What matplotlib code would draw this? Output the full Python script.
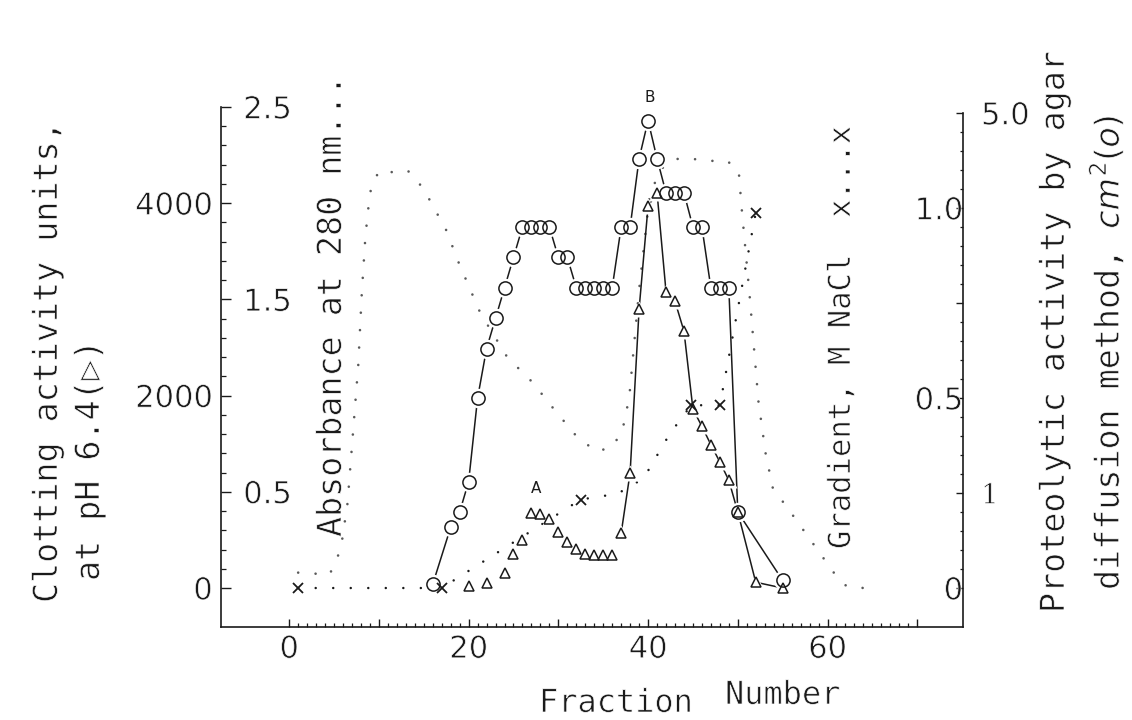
import numpy as np
import matplotlib
matplotlib.use('Agg')
import matplotlib.pyplot as plt
from matplotlib import patheffects as pe
from matplotlib.ticker import FixedLocator

plt.rcParams['font.family'] = ['DejaVu Sans Mono', 'DejaVu Sans']
plt.rcParams['font.size'] = 24
plt.rcParams['mathtext.fontset'] = 'dejavusans'

# --- data -------------------------------------------------------------------
# proteolytic activity (open circles, right axis, cm2)
circ_frac = [16, 18, 19, 20, 21, 22, 23, 24, 25, 26, 27, 28, 29, 30, 31, 32, 33,
             34, 35, 36, 37, 38, 39, 40, 41, 42, 43, 44, 45, 46, 47, 48, 49, 50, 55]
circ_prot = [0.01, 0.16, 0.20, 0.28, 0.50, 0.63, 0.71, 0.79, 0.87, 0.95, 0.95,
             0.95, 0.95, 0.87, 0.87, 0.79, 0.79, 0.79, 0.79, 0.79, 0.95, 0.95,
             1.13, 1.23, 1.13, 1.04, 1.04, 1.04, 0.95, 0.95, 0.79, 0.79, 0.79,
             0.20, 0.02]

# clotting activity (triangles, left axis, units)
tri_frac = [20, 22, 24, 25, 26, 27, 28, 29, 30, 31, 32, 33, 34, 35, 36, 37, 38,
            39, 40, 41, 42, 43, 44, 45, 46, 47, 48, 49, 50, 52, 55]
tri_clot = [20, 50, 160, 350, 500, 780, 770, 720, 580, 480, 410, 350, 345, 345,
            340, 570, 1200, 2900, 3970, 4110, 3080, 2980, 2670, 1860, 1680, 1490,
            1310, 1120, 790, 60, 0]
tri_line_from = 37   # triangles are only joined by lines from here on

# absorbance at 280 nm (dotted)
abs_frac = [1, 4.5, 5.4, 5.9, 6.5, 7.7, 8.1, 8.5, 8.9, 9.2, 10.1, 11.7, 13.2, 14.4,
            15.5, 17.5, 18.9, 21.3, 24.3, 27.1, 29.5, 32.0, 34.2, 35.9, 37.1, 37.9,
            39.0, 40.2, 41.5, 43.1, 45.0, 46.8, 48.8, 50.1, 50.4, 51.3, 51.8, 52.3,
            53.1, 53.9, 56.1, 58.4, 60.7, 62.1, 64.0]
abs_val = [0.08, 0.07, 0.16, 0.25, 0.44, 1.16, 1.54, 1.83, 2.01, 2.10, 2.17, 2.16,
           2.17, 2.11, 2.03, 1.86, 1.69, 1.43, 1.20, 1.07, 0.93, 0.79, 0.71, 0.73,
           0.81, 0.99, 1.55, 2.05, 2.18, 2.23, 2.23, 2.22, 2.22, 2.17, 1.99, 1.53,
           1.25, 0.97, 0.70, 0.52, 0.38, 0.23, 0.08, 0.01, 0.0]

# NaCl gradient (x ... x), read against the absorbance scale
grad_frac = [1, 17, 32.5, 36.6, 39.5, 42.4, 44.8, 48.0, 52.0]
grad_val = [0.0, 0.0, 0.46, 0.49, 0.57, 0.80, 0.95, 0.95, 1.95]
grad_marked = [True, True, True, False, False, False, True, True, True]

# axes ticks / labels
x_major = [0, 10, 20, 30, 40, 50, 60, 70]
x_labels = ['0', '', '20', '', '40', '', '60', '']
x_minor = list(range(0, 71))
clot_ticks = [0, 1000, 2000, 3000, 4000, 5000]
clot_labels = ['0', '', '2000', '', '4000', '']
abs_ticks = [0.5, 1.5, 2.5]
abs_labels = ['0.5', '1.5', '2.5']
prot_ticks = [0, 0.25, 0.5, 0.75, 1.0, 1.25]
prot_labels_out = ['', '1', '', '', '', '5.0']
prot_labels_in = ['0', '', '0.5', '', '1.0', '']

CLOT_PER_ABS = 2000.0
CLOT_PER_PROT = 3950.0

ink = '#1a1a1a'
thin = [pe.Stroke(linewidth=0.5, foreground='white')]   # erode glyphs a little
W, H = 1132, 720

fig = plt.figure(figsize=(W / 100, H / 100), dpi=100)
ax = fig.add_axes([221 / W, 1 - 626.5 / H, (963 - 221) / W, (626.5 - 107) / H])
ax.set_xlim(-7.6, 75.1)
ax.set_ylim(-400, 5000)

circ_y = np.array(circ_prot) * CLOT_PER_PROT
abs_y = np.array(abs_val) * CLOT_PER_ABS
grad_y = np.array(grad_val) * CLOT_PER_ABS
tri_x = np.array(tri_frac)
tri_y = np.array(tri_clot)
on_line = tri_x >= tri_line_from

# dotted curves
ax.plot(abs_frac, abs_y, color='#5a5a5a', lw=1.9, ls=(0, (0.01, 6.6)),
        dash_capstyle='round', zorder=1)
ax.plot(grad_frac, grad_y, color=ink, lw=1.8, ls=(0, (0.01, 7.0)),
        dash_capstyle='round', zorder=1)

# solid joins
ax.plot(circ_frac, circ_y, '-', color=ink, lw=1.1, zorder=2)
ax.plot(tri_x[on_line], tri_y[on_line], '-', color=ink, lw=1.1, zorder=2)

# white halos so the lines stop short of the symbols
ax.plot(circ_frac, circ_y, 'o', ms=14, mfc='white', mec='none', zorder=3)
ax.plot(tri_x, tri_y, '^', ms=11, mfc='white', mec='none', zorder=3)

ax.plot(circ_frac, circ_y, 'o', ms=9.5, mfc='none', mec=ink, mew=1.1, zorder=5)
ax.plot(tri_x, tri_y, '^', ms=7, mfc='none', mec=ink, mew=1.1, zorder=5)
ax.plot(grad_frac, grad_y, ls='none', marker='x', ms=7.5, mew=1.3, color=ink,
        markevery=grad_marked, zorder=5)

ax.text(27.5, 1033, 'A', fontsize=11, family='DejaVu Sans', ha='center',
        va='center', color=ink)
ax.text(40.2, 5097, 'B', fontsize=11, family='DejaVu Sans', ha='center',
        va='center', color=ink, clip_on=False)

# frame
ax.spines['top'].set_visible(False)
ax.spines['left'].set_bounds(-400, 5000)
ax.spines['right'].set_bounds(-400, 1.25 * CLOT_PER_PROT)
for s in ax.spines.values():
    s.set_linewidth(1.2)
    s.set_color(ink)

ax.set_xticks(x_major, x_labels)
ax.xaxis.set_minor_locator(FixedLocator(x_minor))
ax.tick_params(axis='x', which='major', direction='in', length=6, width=1.0,
               pad=6, colors=ink)
ax.tick_params(axis='x', which='minor', direction='in', length=3, width=0.9,
               colors=ink)

ax.set_yticks(clot_ticks, clot_labels)
ax.yaxis.set_minor_locator(FixedLocator(np.arange(0, 5001, 200)))
ax.tick_params(axis='y', which='major', direction='in', length=7, width=1.0,
               pad=6, right=False, colors=ink)
ax.tick_params(axis='y', which='minor', direction='in', length=3.5, width=0.9,
               right=False, colors=ink)

# absorbance labels sit inside the frame, right of the left spine
sec_abs = ax.secondary_yaxis('left', functions=(lambda c: c / CLOT_PER_ABS,
                                                 lambda a: a * CLOT_PER_ABS))
sec_abs.set_yticks(abs_ticks, abs_labels)
for s in sec_abs.spines.values():
    s.set_visible(False)
sec_abs.tick_params(axis='y', length=0, pad=-16, colors=ink)
for lab in sec_abs.get_yticklabels():
    lab.set_horizontalalignment('left')

# proteolytic scale on the right spine
sec_p = ax.secondary_yaxis('right', functions=(lambda c: c / CLOT_PER_PROT,
                                                lambda p: p * CLOT_PER_PROT))
sec_p.set_yticks(prot_ticks, prot_labels_out)
sec_p.yaxis.set_minor_locator(FixedLocator(np.arange(0, 1.2501, 0.05)))
for s in sec_p.spines.values():
    s.set_visible(False)
sec_p.tick_params(axis='y', which='major', direction='in', length=5, width=1.0,
                  pad=13, colors=ink)
sec_p.tick_params(axis='y', which='minor', direction='in', length=2.5, width=0.9,
                  colors=ink)

sec_pl = ax.secondary_yaxis('right', functions=(lambda c: c / CLOT_PER_PROT,
                                                 lambda p: p * CLOT_PER_PROT))
sec_pl.set_yticks(prot_ticks, prot_labels_in)
for s in sec_pl.spines.values():
    s.set_visible(False)
sec_pl.tick_params(axis='y', length=0, pad=0, colors=ink)
for lab in sec_pl.get_yticklabels():
    lab.set_horizontalalignment('right')

# numbers: plain (undotted) zeros, same width as the mono text
for a in (ax, sec_abs, sec_p, sec_pl):
    for lab in a.get_xticklabels() + a.get_yticklabels():
        lab.set_family('DejaVu Sans')
        lab.set_fontsize(22)
        lab.set_path_effects(thin)
sec_p.get_yticklabels()[1].set_family('DejaVu Serif')
sec_p.get_yticklabels()[1].set_fontsize(20)

# axis titles (positions in pixels of the page)
def put(x, y, s, rot=90, size=24):
    fig.text(x / W, 1 - y / H, s, rotation=rot, rotation_mode='anchor',
             ha='left', va='baseline', color=ink, fontsize=size,
             path_effects=thin)

put(57, 603, 'Clotting activity units,')
put(99, 581, 'at pH 6.4(▷)')
put(341, 537, 'Absorbance at 280 nm...')
put(850, 549, 'Gradient, M NaCl  x...x', size=22)
put(1064, 613, 'Proteolytic activity by agar')
put(1119, 590, r'diffusion method, $cm^2(o)$')
put(539, 712, 'Fraction', rot=0, size=23)
put(725, 704, 'Number', rot=0, size=23)

fig.savefig('out.png', dpi=100)
